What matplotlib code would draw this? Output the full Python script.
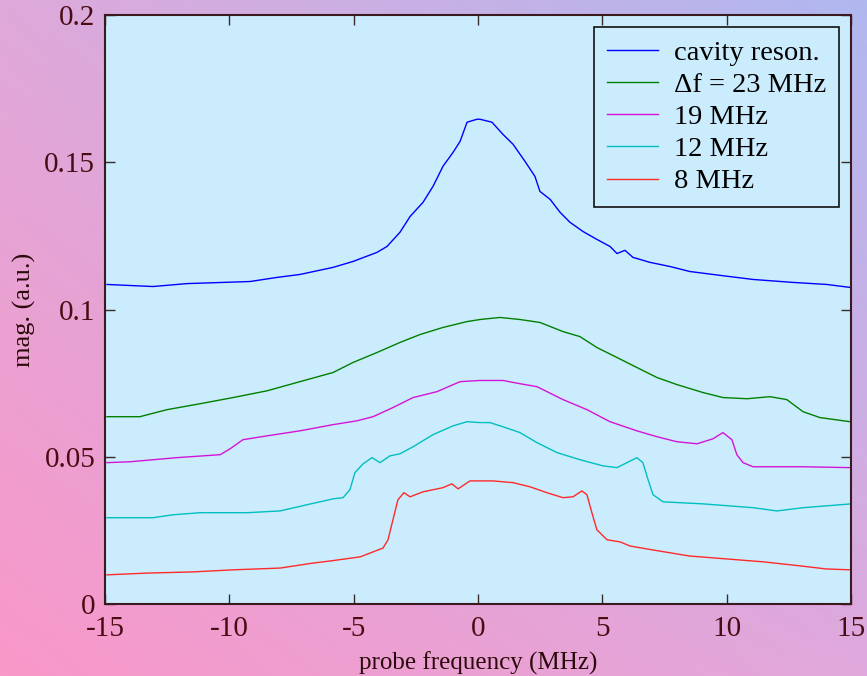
import numpy as np
import matplotlib
matplotlib.use("Agg")
import matplotlib.pyplot as plt

plt.rcParams['font.family'] = ['Liberation Serif', 'DejaVu Serif']

# ---- data ----
blue_x = [-14.92, -13.07, -11.7, -10.25, -9.17, -8.08, -7.16, -5.83, -5.03, -4.06, -3.66, -3.14,
          -2.73, -2.21, -1.81, -1.41, -1.0, -0.72, -0.44, -0.04, 0.08, 0.56, 1.0, 1.41, 1.89, 2.29,
          2.49, 2.9, 3.3, 3.7, 4.22, 4.78, 5.31, 5.59, 5.91, 6.23, 6.92, 7.72, 8.52, 9.73, 11.06,
          12.67, 14.03, 14.96]
blue_y = [0.1085, 0.1078, 0.1088, 0.1092, 0.1095, 0.1109, 0.1119, 0.1143, 0.1163, 0.1194, 0.1214,
          0.1262, 0.1316, 0.1364, 0.1418, 0.1486, 0.1534, 0.1571, 0.1636, 0.1646, 0.1646, 0.1636,
          0.1595, 0.1561, 0.1503, 0.1452, 0.1401, 0.1374, 0.1330, 0.1296, 0.1265, 0.1238, 0.1214,
          0.1190, 0.1201, 0.1177, 0.1160, 0.1146, 0.1129, 0.1116, 0.1102, 0.1092, 0.1085, 0.1075]

green_x = [-14.92, -13.6, -12.5, -11.18, -9.85, -8.48, -7.16, -5.83, -5.03, -4.06, -3.14, -2.33,
           -1.41, -0.44, 0.08, 0.88, 1.69, 2.49, 3.42, 4.1, 4.78, 5.59, 6.39, 7.2, 8.0, 9.05, 9.85,
           10.82, 11.74, 12.42, 13.07, 13.75, 14.96]
green_y = [0.0636, 0.0636, 0.0660, 0.0680, 0.0701, 0.0724, 0.0755, 0.0786, 0.0820, 0.0854, 0.0888,
           0.0915, 0.0939, 0.0959, 0.0966, 0.0973, 0.0966, 0.0956, 0.0925, 0.0908, 0.0871, 0.0837,
           0.0803, 0.0769, 0.0745, 0.0718, 0.0701, 0.0697, 0.0704, 0.0694, 0.0653, 0.0633, 0.0619]

mag_x = [-14.92, -13.99, -12.1, -10.37, -9.97, -9.45, -8.48, -7.16, -5.83, -4.87, -4.22, -3.42,
         -2.61, -1.65, -0.72, 0.08, 1.0, 1.69, 2.37, 3.42, 4.38, 5.31, 6.39, 7.2, 8.0, 8.81, 9.45,
         9.85, 10.21, 10.41, 10.66, 11.06, 13.07, 15.0]
mag_y = [0.0480, 0.0483, 0.0497, 0.0507, 0.0527, 0.0558, 0.0571, 0.0588, 0.0609, 0.0622, 0.0636,
         0.0667, 0.0701, 0.0721, 0.0755, 0.0759, 0.0759, 0.0748, 0.0738, 0.0694, 0.0660, 0.0619,
         0.0588, 0.0568, 0.0551, 0.0544, 0.0561, 0.0582, 0.0558, 0.0507, 0.0480, 0.0466, 0.0466,
         0.0463]

cyan_x = [-14.92, -13.07, -12.26, -11.18, -9.29, -7.96, -6.88, -5.83, -5.43, -5.15, -4.95, -4.62,
          -4.26, -3.94, -3.54, -3.14, -2.61, -1.81, -1.0, -0.44, 0.08, 0.48, 1.0, 1.69, 2.37, 3.18,
          4.1, 5.03, 5.59, 5.99, 6.39, 6.63, 6.84, 7.04, 7.44, 9.05, 11.06, 12.02, 13.07, 15.0]
cyan_y = [0.0293, 0.0293, 0.0303, 0.0310, 0.0310, 0.0316, 0.0337, 0.0357, 0.0361, 0.0388, 0.0446,
          0.0476, 0.0497, 0.0480, 0.0503, 0.0510, 0.0534, 0.0575, 0.0605, 0.0619, 0.0616, 0.0616,
          0.0602, 0.0582, 0.0548, 0.0514, 0.0490, 0.0469, 0.0463, 0.0480, 0.0497, 0.0480, 0.0422,
          0.0371, 0.0347, 0.0340, 0.0327, 0.0316, 0.0327, 0.0340]

red_x = [-14.92, -13.3, -11.46, -9.85, -7.96, -6.63, -5.95, -4.74, -3.82, -3.62, -3.42, -3.22,
         -2.98, -2.73, -2.21, -1.41, -1.05, -0.80, -0.32, 0.60, 1.41, 2.09, 2.77, 3.42, 3.82, 4.18,
         4.38, 4.58, 4.78, 5.19, 5.71, 6.11, 7.0, 8.5, 10.0, 11.5, 13.0, 14.0, 15.0]
red_y = [0.0099, 0.0105, 0.0109, 0.0116, 0.0122, 0.0139, 0.0146, 0.0160, 0.0190, 0.0218, 0.0286,
         0.0354, 0.0378, 0.0364, 0.0381, 0.0395, 0.0408, 0.0391, 0.0418, 0.0418, 0.0412, 0.0398,
         0.0378, 0.0361, 0.0364, 0.0384, 0.0371, 0.0310, 0.0252, 0.0218, 0.0211, 0.0197, 0.0184,
         0.0163, 0.0153, 0.0143, 0.0129, 0.0119, 0.0116]

labels = ['cavity reson.', '\u0394f = 23 MHz', '19 MHz', '12 MHz', '8 MHz']
colors = ['#0000ff', '#008000', '#d414d8', '#00bfbf', '#ff2a2a']
x_ticks = [-15, -10, -5, 0, 5, 10, 15]
y_ticks = [0, 0.05, 0.1, 0.15, 0.2]
y_tick_labels = ['0', '0.05', '0.1', '0.15', '0.2']

# ---- figure ----
W, H = 867, 676
fig = plt.figure(figsize=(W / 100, H / 100), dpi=100)

# background gradient (bilinear between corner colours)
def hexrgb(h):
    h = h.lstrip('#')
    return np.array([int(h[i:i + 2], 16) / 255 for i in (0, 2, 4)])
tl, tr, bl, br = hexrgb('#dea9da'), hexrgb('#b0b8f0'), hexrgb('#f998c9'), hexrgb('#e0a8dc')
u = np.linspace(0, 1, 200)[None, :, None]
v = np.linspace(0, 1, 200)[:, None, None]
grad = (1 - v) * ((1 - u) * tl + u * tr) + v * ((1 - u) * bl + u * br)
bg = fig.add_axes([0, 0, 1, 1], zorder=-10)
bg.imshow(grad, aspect='auto', extent=[0, 1, 0, 1], origin='upper')
bg.axis('off')

left, right, top, bottom = 105, 851, 15, 604
ax = fig.add_axes([left / W, 1 - bottom / H, (right - left) / W, (bottom - top) / H])
ax.set_facecolor('#cbecfd')

series = [(blue_x, blue_y), (green_x, green_y), (mag_x, mag_y), (cyan_x, cyan_y), (red_x, red_y)]
for (xs, ys), c, lab in zip(series, colors, labels):
    ax.plot(xs, ys, color=c, lw=1.0, label=lab)

ax.set_xlim(-15, 15)
ax.set_ylim(0, 0.2)
ax.set_xticks(x_ticks)
ax.set_xticklabels([str(t) for t in x_ticks])
ax.set_yticks(y_ticks)
ax.set_yticklabels(y_tick_labels)

tick_col = '#4a0c14'
ax.tick_params(direction='in', length=7, width=1.0, color='#3a2a2a',
               top=True, right=True, labelsize=21, labelcolor=tick_col)
ax.tick_params(axis='y', pad=7)
ax.tick_params(axis='x', pad=8.5)
for s in ax.spines.values():
    s.set_color('#3a1a1e')
    s.set_linewidth(1.5)

ax.set_xlabel('probe frequency (MHz)', fontsize=18, color='#2a0a0a', labelpad=7)
ax.set_ylabel('mag. (a.u.)', fontsize=19, color='#2a0a0a', labelpad=6)

leg = ax.legend(loc='upper right', fontsize=20.5, frameon=True, fancybox=False,
                edgecolor='#111111', facecolor='#cbecfd', framealpha=1,
                handlelength=1.8, handletextpad=0.56, labelspacing=0.22,
                borderaxespad=0.42, borderpad=0.45)
leg.get_frame().set_linewidth(1.2)

fig.savefig('out.png', dpi=100)
